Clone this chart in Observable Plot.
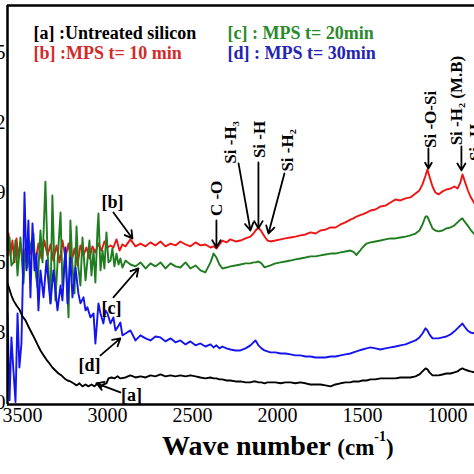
<!DOCTYPE html>
<html><head><meta charset="utf-8">
<script src="https://cdn.jsdelivr.net/npm/d3@7"></script>
<script src="https://cdn.jsdelivr.net/npm/@observablehq/plot@0.6"></script>
<style>html,body{margin:0;padding:0;background:#fff}#chart svg{display:block}</style>
</head><body><div id="chart"></div>
<script>
// ---- axes ----
const xDomain = [3588, 841];
const yDomain = [-0.09, 17.04];
const xTicks = [3500, 3000, 2500, 2000, 1500, 1000];
const yTicks = [0, 3, 6, 9, 12, 15];

// ---- noisy high-wavenumber part, per series ----
const aNoisyWn = [3588,3576,3565,3553,3535,3518,3500,3482,3465,3447,3429,3412,3394,3376,3359,3341,3324,3306,3288,3271,3253,3235,3218,3200,3182,3165,3147,3129,3112,3094,3076,3059,3041,3024,3006,2994,2976,2959,2941,2924];
const aNoisy = [5.11,4.85,4.59,4.38,4.16,3.99,3.69,3.52,3.26,3.00,2.75,2.49,2.23,2.02,1.84,1.67,1.50,1.37,1.24,1.16,1.03,0.94,0.90,0.82,0.73,0.82,0.69,0.77,0.69,0.77,0.69,0.82,0.64,0.77,0.82,1.03,1.07,1.03,1.12,1.03];

const bNoisyWn = [3588,3582,3571,3559,3547,3535,3524,3512,3494,3476,3459,3441,3424,3406,3388,3371,3353,3335,3318,3300,3282,3265,3247,3229,3212,3194,3176,3159,3141,3124,3106,3088,3071,3053,3035,3018,3000,2982,2965,2947,2929,2912];
const bNoisy = [6.52,7.25,6.31,6.95,6.01,7.04,6.18,6.87,5.88,6.95,6.31,6.74,6.01,6.82,6.18,6.95,6.31,6.78,6.09,6.74,6.01,6.95,6.22,6.82,6.01,6.61,5.88,6.74,6.31,6.65,6.18,6.70,6.44,6.82,6.52,6.91,6.65,6.74,6.65,7.00,6.52,6.78];

const cNoisyWn = [3588,3576,3565,3553,3541,3529,3512,3494,3482,3471,3453,3435,3424,3412,3394,3382,3365,3353,3335,3324,3306,3288,3276,3265,3247,3229,3218,3206,3194,3182,3171,3159,3147,3129,3118,3106,3094,3082,3071,3059,3053,3041,3029,3018,3006,2994,2982,2971,2959,2947,2935,2924,2912];
const cNoisy = [6.31,7.08,5.88,6.01,6.95,5.45,7.08,5.11,6.61,5.79,6.74,7.25,5.67,4.94,7.38,6.01,9.48,6.52,4.25,8.88,4.38,6.74,8.15,5.02,6.52,3.65,7.81,5.88,4.68,7.55,5.79,5.02,7.08,5.24,6.09,6.95,5.45,6.52,5.15,7.38,8.11,5.67,6.52,5.75,7.30,6.01,6.09,6.61,5.84,6.39,5.92,6.18,5.79];

const dNoisyWn = [3588,3576,3565,3553,3541,3529,3518,3506,3494,3488,3476,3465,3453,3441,3429,3418,3406,3394,3376,3359,3335,3318,3294,3276,3265,3247,3235,3218,3206,3188,3171,3159,3141,3129,3118,3100,3082,3071,3053,3041,3024,3012,3000,2982,2965,2953,2941,2924,2912];
const dNoisy = [3.82,0.09,2.79,1.37,0.02,3.82,1.50,2.53,6.52,9.01,5.67,7.81,4.51,7.68,5.67,6.39,3.95,5.67,4.51,6.09,4.25,5.67,3.95,5.02,4.38,6.65,4.25,6.22,4.51,5.79,4.68,4.25,4.51,3.95,4.08,3.65,3.82,2.53,4.25,3.82,3.39,3.95,3.82,3.39,3.65,3.09,3.22,3.43,2.88];

// ---- smoother low-wavenumber part, shared wavenumbers ----
const gridWn = [2894,2865,2835,2806,2776,2747,2718,2688,2659,2629,2600,2571,2541,2512,2482,2453,2424,2394,2376,2359,2341,2324,2300,2277,2247,2218,2188,2159,2141,2129,2112,2094,2076,2059,2041,2012,1982,1953,1924,1894,1865,1835,1806,1776,1747,1718,1688,1659,1629,1600,1571,1553,1535,1518,1500,1476,1453,1424,1394,1365,1335,1306,1277,1247,1218,1188,1165,1147,1129,1118,1106,1088,1071,1053,1029,1006,982,959,941,924,912,900,882,865,841];
const aGrid = [1.07,1.16,1.07,1.12,1.07,1.16,1.12,1.20,1.12,1.16,1.12,1.16,1.12,1.16,1.12,1.07,1.03,1.07,1.03,1.03,0.99,0.99,0.94,0.94,0.90,0.90,0.86,0.86,0.90,0.90,0.86,0.86,0.82,0.86,0.86,0.86,0.82,0.86,0.86,0.82,0.86,0.82,0.77,0.77,0.77,0.73,0.69,0.77,0.82,0.86,0.86,0.90,0.90,0.90,0.94,0.94,0.99,0.99,1.03,1.03,1.03,1.03,1.07,1.07,1.07,1.12,1.20,1.33,1.46,1.42,1.29,1.16,1.16,1.16,1.20,1.24,1.24,1.29,1.33,1.42,1.46,1.42,1.37,1.33,1.29];
const bGrid = [6.70,7.00,6.70,6.82,6.70,6.87,6.74,6.91,6.70,6.82,6.74,6.91,6.78,6.70,6.87,6.74,6.78,6.65,6.70,6.61,6.78,6.95,6.87,7.00,6.91,6.95,7.04,7.12,7.25,7.38,7.51,7.34,7.12,6.95,6.91,6.95,7.00,7.04,7.08,7.12,7.17,7.21,7.30,7.25,7.38,7.42,7.51,7.51,7.64,7.73,7.85,7.90,7.98,8.03,8.07,8.15,8.24,8.28,8.41,8.45,8.58,8.71,8.67,8.76,8.80,8.97,9.10,9.36,9.74,10.00,9.70,9.27,9.01,8.93,9.06,9.14,9.18,9.27,9.18,9.44,9.79,9.53,9.14,8.84,8.54];
const cGrid = [6.09,5.92,5.84,6.01,5.75,5.97,5.84,6.01,5.75,5.97,5.84,5.79,6.01,5.75,5.88,5.67,5.58,6.01,6.39,6.22,5.92,5.75,5.79,5.84,5.88,5.92,5.97,5.97,6.01,6.01,6.05,5.97,5.80,5.84,5.88,5.97,6.01,6.05,6.09,6.14,6.18,6.22,6.27,6.27,6.31,6.35,6.39,6.39,6.44,6.48,6.52,6.46,6.33,6.48,6.65,6.82,6.87,6.91,6.95,7.00,7.04,7.04,7.08,7.12,7.17,7.25,7.38,7.64,7.98,7.98,7.77,7.47,7.38,7.34,7.38,7.47,7.51,7.60,7.73,7.85,7.90,7.77,7.60,7.42,7.21];
const dGrid = [2.96,3.09,2.66,2.88,2.75,2.66,2.83,2.79,2.62,2.75,2.58,2.66,2.49,2.62,2.45,2.53,2.40,2.49,2.36,2.45,2.32,2.40,2.32,2.27,2.23,2.23,2.32,2.45,2.58,2.66,2.45,2.32,2.23,2.19,2.15,2.15,2.10,2.10,2.06,2.02,2.02,1.97,1.97,1.93,1.93,1.93,1.97,1.97,2.02,2.06,2.10,2.15,2.19,2.23,2.27,2.32,2.36,2.32,2.27,2.32,2.36,2.40,2.45,2.49,2.58,2.66,2.79,2.96,3.18,3.09,2.92,2.75,2.75,2.75,2.79,2.83,2.92,3.05,3.18,3.30,3.39,3.26,3.09,3.00,2.96];

// ---- legend & annotations ----
const legendTexts = ["[a] :Untreated silicon", "[b] :MPS t= 10 min", "[c] : MPS t= 20min", "[d] : MPS t= 30min"];
const legendColors = ["#000000", "#d42a2a", "#2b8a2b", "#2424b4"];
const legendX = [3435, 3435, 2294, 2294];
const legendY = [15.87, 14.98, 15.87, 14.98];

const lineColors = {a: "#000000", b: "#ee1414", c: "#1f7d1f", d: "#1414ee"};

const tagTexts = ["[a]", "[b]", "[c]", "[d]"];
const tagX = [2859, 2971, 2976, 3106];
const tagY = [0.30, 8.58, 4.03, 1.59];
const tagArrowX1 = [2924, 2965, 2965, 3041];
const tagArrowY1 = [0.43, 8.15, 4.51, 2.02];
const tagArrowX2 = [3065, 2853, 2818, 2924];
const tagArrowY2 = [0.82, 7.04, 5.75, 2.75];

const peakTexts = ["C -O", "Si -H\u2083", "Si -H", "Si -H\u2082", "Si -O-Si", "Si -H\u2082 (M.B)", "Si -H"];
const peakX = [2359, 2277, 2106, 1941, 1100, 947, 833];
const peakY = [8.76, 11.16, 11.29, 10.82, 12.15, 12.96, 11.16];
const peakArrowX1 = [2359, 2229, 2112, 1959, 1112, 918];
const peakArrowY1 = [7.81, 10.26, 10.30, 9.83, 10.90, 10.99];
const peakArrowX2 = [2359, 2159, 2112, 2053, 1112, 918];
const peakArrowY2 = [6.65, 7.38, 7.47, 7.25, 10.04, 9.96];

// ---- build table ----
const seriesDefs = [
  {key: "b", wn: bNoisyWn.concat(gridWn), v: bNoisy.concat(bGrid)},
  {key: "c", wn: cNoisyWn.concat(gridWn), v: cNoisy.concat(cGrid)},
  {key: "d", wn: dNoisyWn.concat(gridWn), v: dNoisy.concat(dGrid)},
  {key: "a", wn: aNoisyWn.concat(gridWn), v: aNoisy.concat(aGrid)}
];
const lineMarks = seriesDefs.map(s => Plot.line(
  s.wn.map((w, i) => ({wn: w, v: s.v[i]})),
  {x: "wn", y: "v", stroke: lineColors[s.key], strokeWidth: 1.9, clip: true}
));

const serif = "'Liberation Serif', 'Times New Roman', serif";
const idx = n => d3.range(n);

const plot = Plot.plot({
  width: 474, height: 474,
  marginLeft: 7, marginRight: 0, marginTop: 5, marginBottom: 70,
  style: {fontFamily: serif, fontSize: "20px", background: "#fff", color: "#000"},
  x: {domain: xDomain},
  y: {domain: yDomain},
  marks: [
    ...lineMarks,
    Plot.axisX({ticks: xTicks, tickSize: 0, tickPadding: 3, tickFormat: d => `${d}`, fontSize: 20, label: null}),
    Plot.axisY({ticks: yTicks, tickSize: 0, tickPadding: 2, tickFormat: d => `${d}`, fontSize: 20, label: null}),
    Plot.ruleY([yDomain[1]], {stroke: "#000", strokeWidth: 2.5}),
    Plot.ruleY([yDomain[0]], {stroke: "#000", strokeWidth: 2.5}),
    Plot.ruleX([xDomain[0]], {stroke: "#000", strokeWidth: 2.5}),
    Plot.text(idx(4), {x: i => legendX[i], y: i => legendY[i], text: i => legendTexts[i], fill: i => legendColors[i],
      textAnchor: "start", fontSize: 18, fontWeight: "bold"}),
    Plot.text(idx(4), {x: i => tagX[i], y: i => tagY[i], text: i => tagTexts[i], fontSize: 18, fontWeight: "bold", fill: "#000"}),
    Plot.arrow(idx(4), {x1: i => tagArrowX1[i], y1: i => tagArrowY1[i], x2: i => tagArrowX2[i], y2: i => tagArrowY2[i],
      stroke: "#000", strokeWidth: 1.8, headLength: 7}),
    Plot.text(idx(7), {x: i => peakX[i], y: i => peakY[i], text: i => peakTexts[i], rotate: -90,
      fontSize: 17, fontWeight: "bold", fill: "#000", textAnchor: "middle"}),
    Plot.arrow(idx(6), {x1: i => peakArrowX1[i], y1: i => peakArrowY1[i], x2: i => peakArrowX2[i], y2: i => peakArrowY2[i],
      stroke: "#000", strokeWidth: 1.8, headLength: 7})
  ]
});

// x-axis title with superscript
const svg = d3.select(plot);
const t = svg.append("text").attr("x", 162).attr("y", 455).attr("text-anchor", "start")
  .attr("font-family", serif).attr("font-weight", "bold").attr("fill", "#000");
t.append("tspan").attr("font-size", 28).text("Wave number ");
t.append("tspan").attr("font-size", 23).text("(cm");
t.append("tspan").attr("font-size", 14).attr("dy", -14).text("-1");
t.append("tspan").attr("font-size", 23).attr("dy", 14).text(")");

document.getElementById("chart").appendChild(plot);
</script>
</body></html>
